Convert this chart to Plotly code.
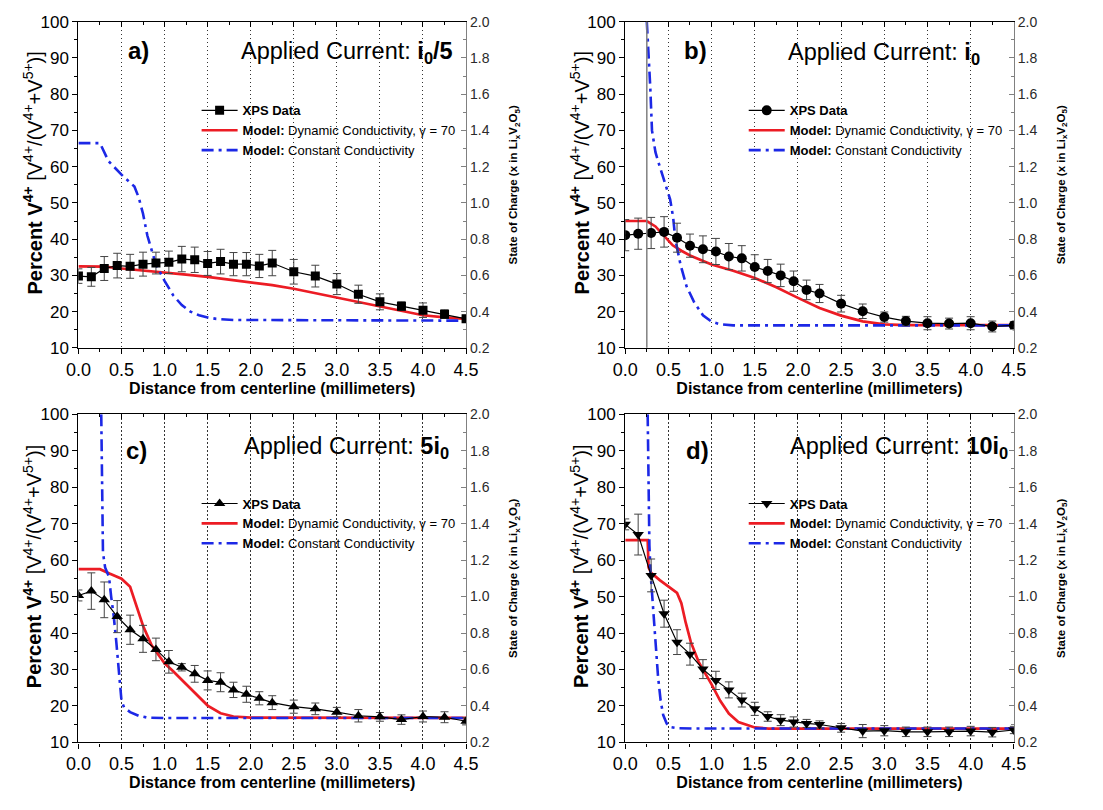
import plotly.graph_objects as go

# ---------------- data ----------------
x_xps = [0, 0.15, 0.3, 0.45, 0.6, 0.75, 0.9, 1.05, 1.2, 1.35, 1.5, 1.65, 1.8, 1.95,
         2.1, 2.25, 2.5, 2.75, 3.0, 3.25, 3.5, 3.75, 4.0, 4.25, 4.5]

a_xps = [29.8, 29.6, 31.9, 32.7, 32.5, 33.1, 33.4, 33.6, 34.5, 34.3, 33.3, 33.8, 33.1, 33.1,
         32.6, 33.4, 31.0, 29.8, 27.6, 24.8, 22.7, 21.5, 20.4, 19.3, 18.0]
a_err = [2.0, 2.6, 3.3, 3.4, 3.3, 3.3, 3.0, 3.1, 3.5, 3.5, 3.3, 3.4, 3.2, 3.2,
         3.2, 3.5, 3.4, 3.0, 2.9, 2.5, 2.2, 1.2, 2.0, 1.2, 1.0]
b_xps = [41.1, 41.5, 41.7, 42.0, 40.4, 38.2, 37.2, 36.6, 35.2, 34.7, 32.3, 31.2, 30.0, 28.4,
         26.0, 25.0, 22.2, 20.1, 18.5, 17.4, 16.8, 16.7, 16.8, 15.9, 16.2]
b_err = [4.3, 4.3, 4.3, 4.2, 4.0, 3.2, 3.7, 3.6, 3.6, 3.5, 3.4, 3.2, 3.1, 2.8,
         2.7, 2.5, 2.3, 2.0, 1.4, 1.3, 1.8, 1.5, 1.8, 1.5, 1.0]
c_xps = [50.3, 51.5, 49.1, 44.5, 40.9, 38.4, 35.5, 32.1, 30.6, 28.8, 27.0, 26.5, 24.4, 23.2,
         22.1, 20.9, 19.8, 19.2, 18.3, 17.3, 17.0, 16.25, 17.1, 16.9, 15.8]
c_err = [1.5, 5.0, 4.9, 4.4, 4.0, 3.7, 3.1, 3.1, 1.0, 2.3, 2.6, 2.6, 2.1, 2.2,
         1.8, 1.9, 1.8, 1.6, 1.3, 1.7, 1.2, 1.3, 1.5, 1.5, 1.0]
d_xps = [69.8, 67.0, 55.8, 45.3, 37.5, 34.2, 30.1, 27.0, 24.4, 21.6, 19.2, 17.1, 16.1, 15.6,
         15.2, 14.9, 14.0, 13.1, 13.2, 12.9, 12.9, 12.9, 13.1, 12.8, 13.4]
d_err = [1.5, 5.6, 4.5, 3.7, 3.4, 3.0, 2.6, 2.5, 2.2, 1.9, 1.8, 1.3, 1.5, 1.4,
         1.1, 1.0, 1.2, 1.8, 1.4, 1.3, 1.3, 1.3, 1.3, 1.3, 1.0]

# Dynamic conductivity model (red)
a_dyn_x = [0, 0.3, 0.5, 0.75, 1.0, 1.25, 1.5, 1.75, 2.0, 2.25, 2.5, 2.75, 3.0, 3.25, 3.5, 3.75, 4.0, 4.25, 4.5]
a_dyn_y = [32.5, 32.4, 31.9, 31.4, 30.8, 30.2, 29.6, 28.9, 28.1, 27.3, 26.3, 25.1, 23.8, 22.5, 21.4, 20.1, 19.0, 18.4, 18.0]
b_dyn_x = [0, 0.25, 0.35, 0.45, 0.55, 0.65, 0.75, 1.0, 1.25, 1.5, 1.75, 2.0, 2.25, 2.5, 2.75, 3.0, 3.25, 4.5]
b_dyn_y = [45, 45, 43.5, 40.8, 38.3, 36.8, 35.5, 33, 31.3, 29.3, 26.7, 23.8, 21, 18.9, 17.3, 16.5, 16.3, 16.3]
c_dyn_x = [0, 0.25, 0.36, 0.5, 0.6, 0.65, 0.7, 0.75, 0.85, 1.0, 1.1, 1.2, 1.35, 1.5, 1.65, 1.8, 2.0, 4.5]
c_dyn_y = [57.5, 57.5, 56.3, 54.9, 52.7, 49.1, 45.5, 42, 36.6, 31.7, 29.5, 27.2, 23.7, 20.1, 18, 17.1, 16.8, 16.7]
d_dyn_x = [0, 0.26, 0.27, 0.3, 0.4, 0.5, 0.6, 0.65, 0.7, 0.76, 0.85, 1.0, 1.1, 1.2, 1.31, 1.5, 1.66, 4.5]
d_dyn_y = [65.5, 65.5, 58, 56.5, 54.5, 52.7, 51, 48.2, 42.9, 37.5, 32.1, 25.9, 21.4, 17.9, 15.6, 14.1, 13.8, 13.8]

# Constant conductivity model (blue)
a_con_x = [0, 0.25, 0.35, 0.5, 0.65, 0.7, 0.75, 0.8, 0.9, 1.0, 1.1, 1.2, 1.3, 1.4, 1.5, 1.6, 1.8, 2.5, 4.5]
a_con_y = [66.5, 66.5, 61.5, 57.8, 54.5, 51.5, 47, 41, 33, 28.5, 24.5, 21.8, 20, 19, 18.4, 18.0, 17.7, 17.6, 17.5]
b_con_x = [0.25, 0.27, 0.29, 0.31, 0.35, 0.4, 0.47, 0.52, 0.555, 0.58, 0.64, 0.71, 0.8, 0.9, 1.0, 1.1, 1.25, 4.5]
b_con_y = [100, 92, 82, 70, 64, 60, 55, 51, 46, 40, 33, 27, 22.5, 19, 17.2, 16.5, 16.2, 16.2]
c_con_x = [0.265, 0.275, 0.285, 0.31, 0.355, 0.38, 0.41, 0.44, 0.47, 0.5, 0.53, 0.6, 0.7, 0.8, 1.0, 4.5]
c_con_y = [100, 85, 62, 58, 55.4, 50, 44.6, 37.5, 28.6, 21.4, 19.6, 18.3, 17.3, 16.8, 16.7, 16.7]
d_con_x = [0.26, 0.27, 0.28, 0.295, 0.32, 0.35, 0.38, 0.41, 0.44, 0.48, 0.52, 0.6, 0.8, 4.5]
d_con_y = [100, 80, 64, 56, 48, 38, 28, 21.5, 17.5, 15.2, 14.2, 13.9, 13.8, 13.8]

panel_letters = ["a)", "b)", "c)", "d)"]
current_labels = ["i<sub>0</sub>/5", "i<sub>0</sub>", "5i<sub>0</sub>", "10i<sub>0</sub>"]
letter_pos = [(0.55, 92.0), (0.66, 92.0), (0.53, 90.0), (0.68, 90.0)]
current_pos = [(1.86, 91.5), (1.865, 91.3), (1.9, 90.8), (1.88, 90.8)]
symbols = ["square", "circle", "triangle-up", "triangle-down"]
b_reference_x = 0.25   # vertical reference line in panel b

x_ticks = [0, 0.5, 1.0, 1.5, 2.0, 2.5, 3.0, 3.5, 4.0, 4.5]

# ---------------- layout geometry ----------------
W, H = 1103, 810
FONT = "Liberation Sans, Arial, sans-serif"
panels_px = [  # left, right, top, bottom in pixels
    (67, 464, 13, 347),
    (627, 1025, 13, 347),
    (67, 464, 415, 751),
    (627, 1025, 415, 751),
]

xps_sets = [(a_xps, a_err), (b_xps, b_err), (c_xps, c_err), (d_xps, d_err)]
dyn_sets = [(a_dyn_x, a_dyn_y), (b_dyn_x, b_dyn_y), (c_dyn_x, c_dyn_y), (d_dyn_x, d_dyn_y)]
con_sets = [(a_con_x, a_con_y), (b_con_x, b_con_y), (c_con_x, c_con_y), (d_con_x, d_con_y)]

RED = "#ec1c24"
BLUE = "#1c28e6"
GRAY_AX = "#808080"

fig = go.Figure()
layout = dict(
    width=W, height=H, margin=dict(l=0, r=0, t=0, b=0),
    paper_bgcolor="white", plot_bgcolor="white",
    font=dict(family=FONT, color="black"),
    showlegend=True, annotations=[], shapes=[],
)

for i in range(4):
    n = i + 1
    xs = "" if n == 1 else str(n)
    xid, yid = f"x{xs}", f"y{xs}"
    xtop, yright = f"x{n + 4}", f"y{n + 4}"
    legname = "legend" if n == 1 else f"legend{n}"
    L, R, T, B = panels_px[i]
    xdom = [L / W, R / W]
    ydom = [1 - B / H, 1 - T / H]

    dx, dy = dyn_sets[i]
    cx, cy = con_sets[i]
    yv, ye = xps_sets[i]

    fig.add_trace(go.Scatter(
        x=dx, y=dy, mode="lines", xaxis=xid, yaxis=yid, legend=legname, legendrank=2,
        line=dict(color=RED, width=2.7),
        name="<b>Model:</b> Dynamic Conductivity, γ = 70"))
    fig.add_trace(go.Scatter(
        x=cx, y=cy, mode="lines", xaxis=xid, yaxis=yid, legend=legname, legendrank=3,
        line=dict(color=BLUE, width=2.6, dash="12px,5px,3px,5px"),
        name="<b>Model:</b> Constant Conductivity"))
    fig.add_trace(go.Scatter(
        x=x_xps, y=yv, mode="lines+markers", xaxis=xid, yaxis=yid, legend=legname, legendrank=1,
        line=dict(color="black", width=1.2),
        marker=dict(symbol=symbols[i], size=9 if i == 0 else 10, color="black"),
        error_y=dict(type="data", array=ye, color="#444444", thickness=1, width=4),
        name="<b>XPS Data</b>"))
    # empty trace so the top tick axis and the right-hand state-of-charge axis are drawn
    fig.add_trace(go.Scatter(x=[None], y=[None], xaxis=xtop, yaxis=yright,
                             showlegend=False, hoverinfo="skip"))

    layout[f"xaxis{xs}"] = dict(
        domain=xdom, anchor=yid, range=[0, 4.5], tickvals=x_ticks, tickformat=".1f",
        ticks="outside", ticklen=5, tickwidth=1, tickcolor="black",
        minor=dict(dtick=0.25, tick0=0, ticks="outside", ticklen=3, tickcolor="black"),
        showline=True, linecolor="black", linewidth=1.3, mirror=True,
        showgrid=True, gridcolor="#333333", griddash="1.5px,2.5px", gridwidth=1,
        zeroline=False, tickfont=dict(size=18, family=FONT),
        title=dict(text="<b>Distance from centerline (millimeters)</b>",
                   font=dict(size=16, family=FONT), standoff=3),
    )
    layout[f"xaxis{n + 4}"] = dict(
        overlaying=xid, anchor=yid, side="top", range=[0, 4.5], tickvals=x_ticks,
        ticks="inside", ticklen=5, tickcolor="black", showticklabels=False,
        minor=dict(dtick=0.25, tick0=0, ticks="inside", ticklen=3, tickcolor="black"),
        showline=False, showgrid=False, zeroline=False,
    )
    layout[f"yaxis{xs}"] = dict(
        domain=ydom, anchor=xid, range=[10, 100], dtick=10, tick0=0,
        ticks="outside", ticklen=5, tickcolor="black",
        minor=dict(dtick=5, tick0=0, ticks="outside", ticklen=3, tickcolor="black"),
        showline=True, linecolor="black", linewidth=1.3, showgrid=False, zeroline=False,
        tickfont=dict(size=17, family=FONT),
    )
    layout[f"yaxis{n + 4}"] = dict(
        overlaying=yid, anchor=xid, side="right", range=[0.2, 2.0], dtick=0.2, tick0=0,
        tickformat=".1f", ticks="inside", ticklen=5, tickcolor=GRAY_AX,
        minor=dict(dtick=0.1, tick0=0, ticks="inside", ticklen=3, tickcolor=GRAY_AX),
        showline=True, linecolor=GRAY_AX, linewidth=1.3, showgrid=False, zeroline=False,
        tickfont=dict(size=14, family=FONT, color="#2a2a2a"),
        title=dict(text="<b>State of Charge (x in Li<sub>x</sub>V<sub>2</sub>O<sub>5</sub>)</b>",
                   font=dict(size=11.5, family=FONT), standoff=20),
    )
    # legend placement (pixels -> paper)
    pxu = (R - L) / 4.5
    leg_left = L + 1.44 * pxu - 6
    leg_top = T + (B - T) * (100 - 74) / 90 - 21
    layout[legname] = dict(
        x=leg_left / W, y=1 - leg_top / H, xanchor="left", yanchor="top",
        bgcolor="rgba(0,0,0,0)", borderwidth=0, itemwidth=36, tracegroupgap=0,
        font=dict(size=13, family=FONT), traceorder="normal",
    )

    # left axis title (placed slightly above centre, as in the original)
    layout["annotations"].append(dict(
        x=(L - 47) / W, y=1 - ((T + B) / 2 - 12) / H, xref="paper", yref="paper",
        text="<b>Percent V<sup>4+</sup></b> [V<sup>4+</sup>/(V<sup>4+</sup>+V<sup>5+</sup>)]",
        textangle=-90, showarrow=False, xanchor="center", yanchor="middle",
        font=dict(size=20, family=FONT)))
    layout["annotations"].append(dict(
        x=letter_pos[i][0], y=letter_pos[i][1], xref=xid, yref=yid,
        text=f"<b>{panel_letters[i]}</b>", showarrow=False, xanchor="left", yanchor="middle",
        font=dict(size=24, family=FONT)))
    layout["annotations"].append(dict(
        x=current_pos[i][0], y=current_pos[i][1], xref=xid, yref=yid,
        text=f"Applied Current: <b>{current_labels[i]}</b>", showarrow=False,
        xanchor="left", yanchor="middle", font=dict(size=23.5, family=FONT)))

layout["shapes"].append(dict(
    type="line", xref="x2", yref="y2 domain", x0=b_reference_x, x1=b_reference_x, y0=0, y1=1,
    line=dict(color="#808080", width=1.5)))

fig.update_layout(**layout)
fig.write_html("out.html")
